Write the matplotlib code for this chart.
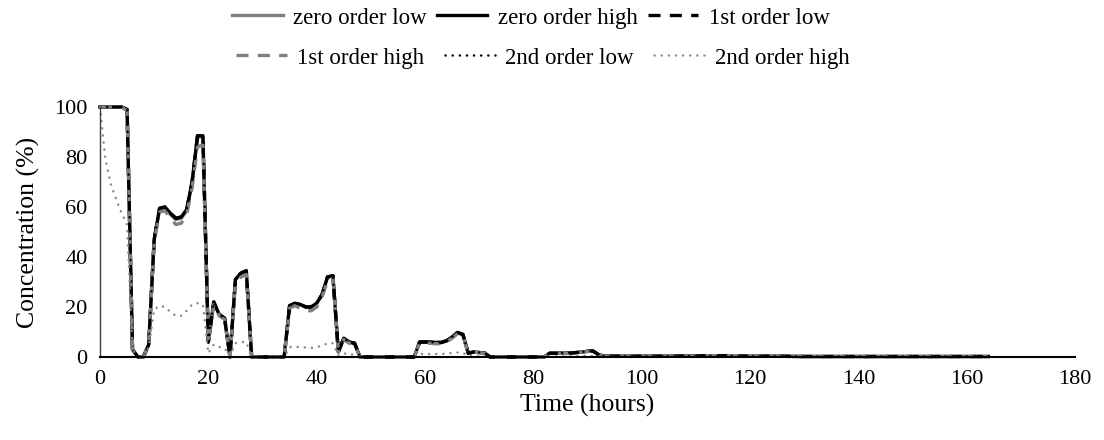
import matplotlib
matplotlib.use("Agg")
import matplotlib.pyplot as plt

plt.rcParams['font.family'] = ['Liberation Serif', 'DejaVu Serif']

# ---------------- data ----------------
hours = list(range(0, 96)) + [100, 105, 110, 115, 120, 125, 130, 135, 140, 145, 150, 155, 160, 164]

zero_order_high = [
    100, 100, 100, 100, 100, 99, 3, 0, 0, 5,
    47, 59.5, 60, 57.5, 55.5, 56, 59, 70, 88.5, 88.5,
    6, 22, 17, 15.5, 0, 31, 33.5, 34.5, 0, 0,
    0, 0, 0, 0, 0, 20.5, 21.5, 21, 20, 20,
    21.5, 25, 32, 32.5, 2, 7.5, 6, 5.5, 0, 0,
    0, 0, 0, 0, 0, 0, 0, 0, 0, 6,
    6, 6, 5.8, 5.8, 6.5, 8, 9.8, 9, 1.5, 2,
    1.8, 1.6, 0, 0, 0, 0, 0, 0, 0, 0,
    0, 0, 0, 1.5, 1.5, 1.6, 1.5, 1.6, 1.8, 2.0,
    2.3, 2.4, 1.0, 0.4, 0.4, 0.3,
    0.3, 0.3, 0.4, 0.5, 0.3, 0.3, 0.2, 0.2, 0.2, 0.2, 0.2, 0.2, 0.2, 0.2,
]

zero_order_low = [
    100, 100, 100, 100, 100, 99, 3, 0, 0, 5,
    47, 59, 59.5, 57, 55, 55.5, 58.5, 69.5, 88, 88,
    6, 22, 17, 15.5, 0, 31, 33.5, 34, 0, 0,
    0, 0, 0, 0, 0, 20.5, 21.5, 21, 20, 20,
    21.5, 25, 32, 32.5, 2, 7.5, 6, 5.5, 0, 0,
    0, 0, 0, 0, 0, 0, 0, 0, 0, 6,
    6, 6, 5.8, 5.8, 6.5, 8, 9.8, 9, 1.5, 2,
    1.8, 1.6, 0, 0, 0, 0, 0, 0, 0, 0,
    0, 0, 0, 1.5, 1.5, 1.6, 1.5, 1.6, 1.8, 2.0,
    2.3, 2.4, 1.0, 0.4, 0.4, 0.3,
    0.3, 0.3, 0.4, 0.5, 0.3, 0.3, 0.2, 0.2, 0.2, 0.2, 0.2, 0.2, 0.2, 0.2,
]

first_order_low = [
    100, 100, 100, 100, 100, 99, 3, 0, 0, 5,
    47, 59.5, 60, 57.5, 55.5, 56, 59, 70, 88.5, 88.5,
    6, 22, 17, 15.5, 0, 31, 33.5, 34.5, 0, 0,
    0, 0, 0, 0, 0, 20.5, 21.5, 21, 20, 20,
    21.5, 25, 32, 32.5, 2, 7.5, 6, 5.5, 0, 0,
    0, 0, 0, 0, 0, 0, 0, 0, 0, 6,
    6, 6, 5.8, 5.8, 6.5, 8, 9.8, 9, 1.5, 2,
    1.8, 1.6, 0, 0, 0, 0, 0, 0, 0, 0,
    0, 0, 0, 1.5, 1.5, 1.6, 1.5, 1.6, 1.8, 2.0,
    2.3, 2.4, 1.0, 0.4, 0.4, 0.3,
    0.3, 0.3, 0.4, 0.5, 0.3, 0.3, 0.2, 0.2, 0.2, 0.2, 0.2, 0.2, 0.2, 0.2,
]

first_order_high = [
    100, 100, 100, 100, 100, 98.5, 3, 0, 0, 5,
    46, 58, 58.5, 55.5, 53, 53.5, 57, 67.5, 84, 85,
    5.5, 21, 16.5, 15, 0, 29.5, 32, 33, 0, 0,
    0, 0, 0, 0, 0, 19.5, 20.5, 19.5, 18.5, 18.5,
    20, 24, 30.5, 31.5, 2, 7, 5.5, 5, 0, 0,
    0, 0, 0, 0, 0, 0, 0, 0, 0, 5.5,
    5.5, 5.5, 5.3, 5.3, 6, 7.5, 9.3, 8.6, 1.4, 1.9,
    1.7, 1.5, 0, 0, 0, 0, 0, 0, 0, 0,
    0, 0, 0, 1.4, 1.4, 1.5, 1.4, 1.5, 1.7, 1.9,
    2.2, 2.3, 0.9, 0.4, 0.4, 0.3,
    0.3, 0.3, 0.4, 0.6, 0.4, 0.3, 0.2, 0.2, 0.2, 0.2, 0.2, 0.2, 0.2, 0.2,
]

second_order_low = [
    100, 100, 100, 100, 100, 99, 3, 0, 0, 5,
    47, 59.5, 60, 57.5, 55.5, 56, 59, 70, 88.5, 88.5,
    6, 22, 17, 15.5, 0, 31, 33.5, 34.5, 0, 0,
    0, 0, 0, 0, 0, 20.5, 21.5, 21, 20, 20,
    21.5, 25, 32, 32.5, 2, 7.5, 6, 5.5, 0, 0,
    0, 0, 0, 0, 0, 0, 0, 0, 0, 6,
    6, 6, 5.8, 5.8, 6.5, 8, 9.8, 9, 1.5, 2,
    1.8, 1.6, 0, 0, 0, 0, 0, 0, 0, 0,
    0, 0, 0, 1.5, 1.5, 1.6, 1.5, 1.6, 1.8, 2.0,
    2.3, 2.4, 1.0, 0.4, 0.4, 0.3,
    0.3, 0.3, 0.4, 0.5, 0.3, 0.3, 0.2, 0.2, 0.2, 0.2, 0.2, 0.2, 0.2, 0.2,
]

second_order_high = [
    100, 79, 69, 63, 57.5, 53, 3, 0, 0, 4,
    19, 20.5, 20, 18, 16.5, 16.5, 18.5, 21, 21.5, 21,
    1.5, 5, 4, 3.5, 0.5, 5.5, 6, 6, 0, 0,
    0, 0, 0, 0, 0, 4, 4, 4, 3.8, 3.6,
    4, 4.5, 5.5, 5.5, 0.5, 1.5, 1, 1, 0, 0,
    0, 0, 0, 0, 0, 0, 0, 0, 0, 1.2,
    1.2, 1.2, 1.2, 1.2, 1.4, 1.6, 1.8, 1.7, 0.3, 0.4,
    0.3, 0.3, 0, 0, 0, 0, 0, 0, 0, 0,
    0, 0, 0, 0.3, 0.3, 0.3, 0.3, 0.3, 0.35, 0.4,
    0.45, 0.45, 0.2, 0.1, 0.1, 0.1,
    0.1, 0.1, 0.1, 0.1, 0.1, 0.1, 0.1, 0.1, 0.1, 0.1, 0.1, 0.1, 0.1, 0.1,
]

labels = ["zero order low", "zero order high", "1st order low",
          "1st order high", "2nd order low", "2nd order high"]
x_ticks = [0, 20, 40, 60, 80, 100, 120, 140, 160, 180]
y_ticks = [0, 20, 40, 60, 80, 100]

# ---------------- styles ----------------
GRAY = "#808080"
LGRAY = "#8c8c8c"
styles = [
    dict(color=GRAY, lw=2.4, ls="-", cap="butt"),
    dict(color="black", lw=2.4, ls="-", cap="butt"),
    dict(color="black", lw=2.4, ls=(0, (3.6, 2.8)), cap="butt"),
    dict(color=GRAY, lw=2.4, ls=(0, (3.6, 2.8)), cap="butt"),
    dict(color="black", lw=1.8, ls=(0, (0.05, 2.8)), cap="round"),
    dict(color=LGRAY, lw=1.8, ls=(0, (0.05, 2.8)), cap="round"),
]
series = [zero_order_low, zero_order_high, first_order_low,
          first_order_high, second_order_low, second_order_high]

fig = plt.figure(figsize=(11.04, 4.40), dpi=100)
ax = fig.add_axes([100 / 1104, 1 - 357 / 440, 975 / 1104, 250 / 440])

handles = []
for ys, st, lab in zip(series, styles, labels):
    ln, = ax.plot(hours, ys, color=st["color"], lw=st["lw"], ls=st["ls"],
                  label=lab, clip_on=False, solid_joinstyle="round",
                  dash_capstyle=st["cap"])
    handles.append(ln)

ax.set_xlim(0, 180)
ax.set_ylim(0, 100)
ax.set_xticks(x_ticks)
ax.set_yticks(y_ticks)
ax.tick_params(length=0, labelsize=16, pad=9)
for s in ["top", "right"]:
    ax.spines[s].set_visible(False)
ax.spines["left"].set_color("#404040")
ax.spines["left"].set_linewidth(1.0)
ax.spines["bottom"].set_color("black")
ax.spines["bottom"].set_linewidth(1.5)
ax.set_xlabel("Time (hours)", fontsize=18.5, labelpad=4)
ax.set_ylabel("Concentration (%)", fontsize=18.5, labelpad=10)

leg_kw = dict(ncol=3, frameon=False, fontsize=16.5, handlelength=2.2,
              handletextpad=0.45, borderpad=0, borderaxespad=0)
leg1 = fig.legend(handles[:3], labels[:3], loc="center", columnspacing=0.45,
                  bbox_to_anchor=(531 / 1104, 1 - 18 / 440), **leg_kw)
leg2 = fig.legend(handles[3:], labels[3:], loc="center", columnspacing=0.9,
                  bbox_to_anchor=(543 / 1104, 1 - 58 / 440), **leg_kw)

fig.savefig("out.png", dpi=100)
